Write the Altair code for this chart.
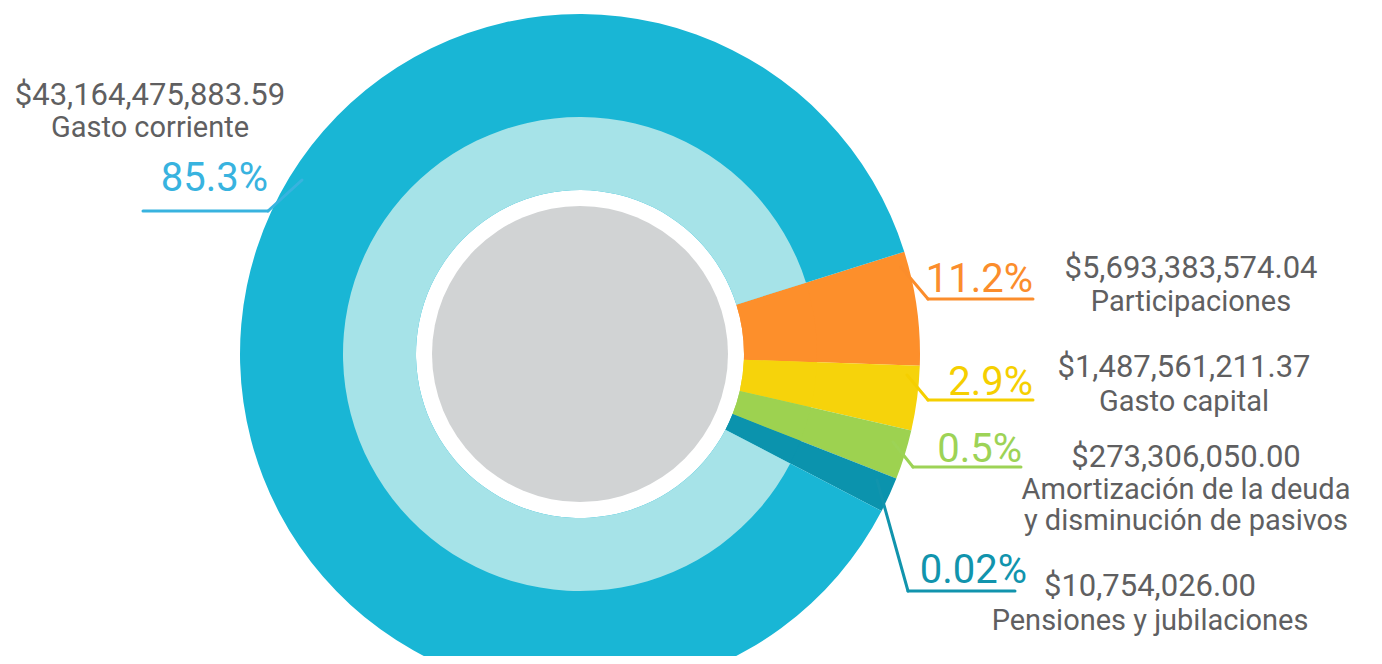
import math
import altair as alt
import pandas as pd

# ---- data ----
categories = ["Participaciones", "Gasto capital",
              "Amortización de la deuda y disminución de pasivos",
              "Pensiones y jubilaciones", "Gasto corriente"]
amounts = ["$5,693,383,574.04", "$1,487,561,211.37", "$273,306,050.00",
           "$10,754,026.00", "$43,164,475,883.59"]
name_lines = [["Participaciones"], ["Gasto capital"],
              ["Amortización de la deuda", "y disminución de pasivos"],
              ["Pensiones y jubilaciones"], ["Gasto corriente"]]
percents = ["11.2%", "2.9%", "0.5%", "0.02%", "85.3%"]
# angular extent of each slice as drawn in the picture (degrees)
arc_deg = [19.5, 11.0, 8.5, 6.0, 315.0]

# ---- styles ----
main_colors = ["#fd8f2b", "#f6d30b", "#9dd250", "#0b93ad", "#19b6d5"]
inner_colors = ["#fd8f2b", "#f6d30b", "#9dd250", "#0b93ad", "#a6e3e8"]
pct_colors = ["#fb8d2c", "#f5cf00", "#9dd356", "#1194ad", "#38b3df"]
TEXT_GRAY = "#5f5f61"
FONT = "Roboto"

W, H = 1366, 648
CX, CY = 572, 346          # chart coords (page = +8)
R_OUT, R_MID, R_IN, R_CORE = 340, 237, 164, 148
start = math.radians(72.5)

df = pd.DataFrame({
    "cat": categories,
    "deg": arc_deg,
    "idx": list(range(len(categories))),
    "main": main_colors,
    "inner": inner_colors,
})

theta = alt.Theta("deg:Q", stack=True,
                  scale=alt.Scale(range=[start, start + 2 * math.pi]))

outer = alt.Chart(df).mark_arc(radius=R_OUT, radius2=R_IN).encode(
    theta=theta, order=alt.Order("idx:Q"),
    color=alt.Color("main:N", scale=None),
    x=alt.value(CX), y=alt.value(CY))

inner = alt.Chart(df).mark_arc(radius=R_MID, radius2=R_IN).encode(
    theta=theta, order=alt.Order("idx:Q"),
    color=alt.Color("inner:N", scale=None),
    x=alt.value(CX), y=alt.value(CY))

one = alt.Data(values=[{"a": 1}])
core = alt.Chart(one).mark_arc(theta=0, theta2=2 * math.pi, radius=R_CORE,
                               color="#d1d3d4").encode(
    x=alt.value(CX), y=alt.value(CY))

layers = [outer, inner, core]

# ---- layout of labels (page coordinates) ----
P = 8
# (amount center x, amount baseline, name baselines)
text_layout = [
    (1191, 278, [311]),
    (1184, 377, [411]),
    (1186, 467, [499, 530]),
    (1150, 596, [630]),
    (150, 105, [137]),
]
# (percent right x, percent baseline)
pct_layout = [(1033, 292), (1033, 395), (1022, 462), (1027, 583), (268, 191)]
leader_layout = [
    [(901, 267), (928, 299), (1033, 299)],
    [(907, 375), (928, 400), (1033, 400)],
    [(893, 442), (913, 467), (1021, 467)],
    [(877, 480), (908, 591), (1015, 591)],
    [(302, 180), (268, 211), (143, 211)],
]

for i in range(len(categories)):
    cx, by, nys = text_layout[i]
    layers.append(alt.Chart(one).mark_text(
        font=FONT, fontSize=31, color=TEXT_GRAY, align="center",
        baseline="alphabetic").encode(
        x=alt.value(cx - P), y=alt.value(by - P), text=alt.value(amounts[i])))
    for line, ny in zip(name_lines[i], nys):
        layers.append(alt.Chart(one).mark_text(
            font=FONT, fontSize=29, color=TEXT_GRAY, align="center",
            baseline="alphabetic").encode(
            x=alt.value(cx - P), y=alt.value(ny - P), text=alt.value(line)))
    px, py = pct_layout[i]
    layers.append(alt.Chart(one).mark_text(
        font=FONT, fontSize=40, fontWeight=400, color=pct_colors[i],
        align="right", baseline="alphabetic").encode(
        x=alt.value(px - P), y=alt.value(py - P), text=alt.value(percents[i])))
    pts = leader_layout[i]
    for (x1, y1), (x2, y2) in zip(pts[:-1], pts[1:]):
        layers.append(alt.Chart(one).mark_rule(
            color=pct_colors[i], strokeWidth=3, strokeCap="round").encode(
            x=alt.value(x1 - P), y=alt.value(y1 - P),
            x2=alt.value(x2 - P), y2=alt.value(y2 - P)))

chart = alt.layer(*layers).properties(
    width=W, height=H, padding=0, autosize=alt.AutoSizeParams(type="none"),
    view=alt.ViewBackground(strokeOpacity=0, strokeWidth=0)
).configure_view(strokeOpacity=0, strokeWidth=0).configure(background="white")

chart.save("out.html", embed_options={"renderer": "svg", "actions": False})
